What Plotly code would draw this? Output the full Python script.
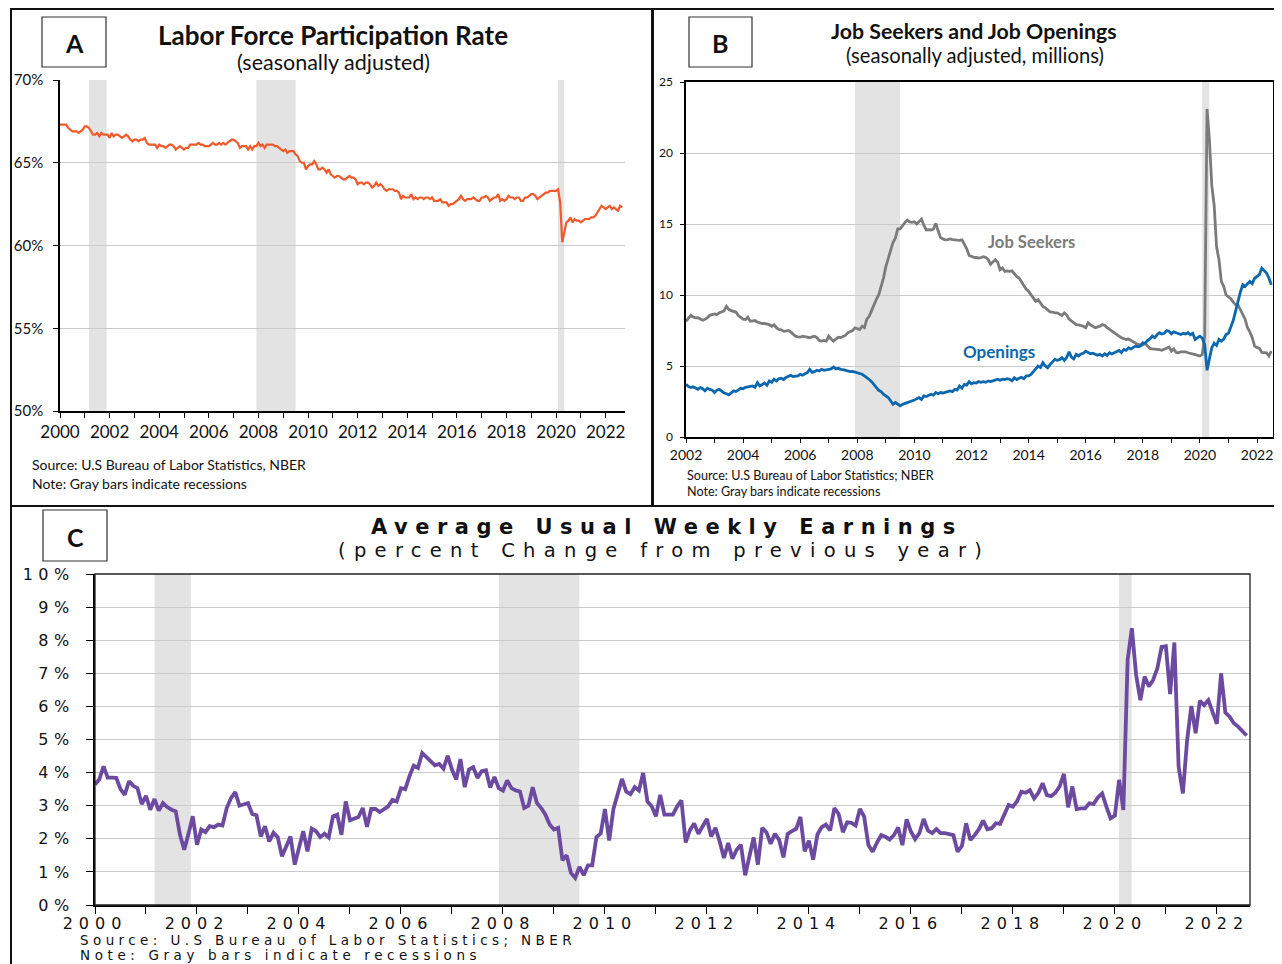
import numpy as np
import plotly.graph_objects as go

# The page body adds an 8px margin, so the figure is sized to the visible area
OFF = 8
FW, FH = 1282 - OFF, 964 - OFF

# ---------------- DATA ----------------
lfpr_start = 2000  # monthly, Jan 2000 - Sep 2022
lfpr = [
    67.3, 67.3, 67.3, 67.3, 67.1, 67.0, 66.9, 66.9, 66.9, 66.8, 66.9, 67.0,
    67.2, 67.2, 67.1, 66.9, 66.7, 66.7, 66.8, 66.6, 66.8, 66.7, 66.7, 66.7,
    66.5, 66.8, 66.6, 66.7, 66.7, 66.6, 66.5, 66.6, 66.7, 66.6, 66.4, 66.3,
    66.4, 66.4, 66.3, 66.4, 66.4, 66.5, 66.2, 66.1, 66.1, 66.1, 66.1, 65.9,
    66.1, 66.0, 66.0, 65.9, 66.0, 66.1, 66.1, 66.0, 65.8, 65.9, 66.0, 65.9,
    65.8, 65.9, 65.9, 66.1, 66.1, 66.1, 66.1, 66.2, 66.1, 66.1, 66.0, 66.0,
    66.0, 66.1, 66.2, 66.1, 66.1, 66.2, 66.1, 66.2, 66.1, 66.2, 66.3, 66.4,
    66.4, 66.3, 66.2, 65.9, 66.0, 66.0, 66.0, 65.8, 66.0, 65.8, 66.0, 66.0,
    66.2, 66.0, 66.1, 65.9, 66.1, 66.1, 66.1, 66.1, 66.0, 66.0, 65.9, 65.8,
    65.7, 65.8, 65.6, 65.7, 65.7, 65.7, 65.5, 65.4, 65.1, 65.0, 65.0, 64.6,
    64.8, 64.9, 64.9, 65.1, 64.9, 64.6, 64.6, 64.7, 64.6, 64.4, 64.6, 64.3,
    64.2, 64.1, 64.2, 64.2, 64.1, 64.0, 64.0, 64.1, 64.2, 64.1, 64.1, 64.0,
    63.7, 63.8, 63.8, 63.7, 63.8, 63.8, 63.7, 63.5, 63.6, 63.8, 63.6, 63.7,
    63.6, 63.4, 63.3, 63.4, 63.4, 63.4, 63.3, 63.3, 63.2, 62.8, 63.0, 62.9,
    62.9, 62.9, 63.1, 62.8, 62.9, 62.8, 62.9, 62.9, 62.8, 62.9, 62.9, 62.8,
    62.9, 62.7, 62.7, 62.7, 62.8, 62.6, 62.6, 62.6, 62.4, 62.5, 62.5, 62.6,
    62.7, 62.8, 63.0, 62.8, 62.7, 62.8, 62.8, 62.8, 62.9, 62.8, 62.7, 62.7,
    62.9, 62.9, 63.0, 62.9, 62.7, 62.8, 62.9, 62.9, 63.1, 62.7, 62.8, 62.7,
    62.8, 63.0, 62.9, 62.9, 62.8, 62.9, 62.9, 62.7, 62.7, 62.9, 62.9, 63.0,
    63.1, 63.1, 63.0, 62.8, 62.9, 63.0, 63.1, 63.2, 63.2, 63.3, 63.3, 63.3,
    63.3, 63.4, 62.6, 60.2, 60.8, 61.4, 61.5, 61.7, 61.4, 61.6, 61.5, 61.5,
    61.4, 61.5, 61.6, 61.6, 61.6, 61.7, 61.7, 61.8, 62.0, 62.2, 62.4, 62.3,
    62.2, 62.3, 62.4, 62.2, 62.3, 62.2, 62.1, 62.4, 62.3,
]

jobs_start = 2002  # monthly, Jan 2002 - Jul 2022 (millions)
job_seekers = [
    8.15, 8.35, 8.57, 8.45, 8.39, 8.40, 8.30, 8.22, 8.30, 8.40, 8.57, 8.60,
    8.67, 8.62, 8.75, 8.81, 8.90, 9.20, 8.97, 8.90, 8.86, 8.80, 8.55, 8.39,
    8.30, 8.27, 8.43, 8.15, 8.20, 8.20, 8.10, 8.04, 7.98, 8.00, 7.95, 7.92,
    7.80, 7.90, 7.70, 7.57, 7.55, 7.45, 7.45, 7.50, 7.40, 7.25, 7.10, 7.05,
    7.03, 7.10, 7.05, 7.00, 6.99, 7.05, 7.10, 7.00, 6.80, 6.75, 6.80, 6.75,
    7.10, 6.90, 6.75, 6.90, 7.03, 7.00, 7.10, 7.15, 7.34, 7.40, 7.50, 7.69,
    7.60, 7.57, 7.80, 7.70, 8.30, 8.50, 8.90, 9.37, 9.70, 10.02, 10.60, 11.19,
    12.00, 12.60, 13.06, 13.70, 14.00, 14.65, 14.65, 14.90, 15.10, 15.28, 15.15, 15.12,
    15.16, 15.00, 15.20, 15.35, 14.90, 14.58, 14.60, 14.58, 14.65, 15.05, 14.50, 14.04,
    13.95, 13.88, 13.90, 13.95, 13.90, 13.88, 13.90, 13.85, 13.88, 13.60, 13.25, 12.78,
    12.70, 12.65, 12.64, 12.60, 12.64, 12.70, 12.64, 12.50, 12.17, 12.30, 12.48, 12.30,
    11.78, 11.90, 11.66, 11.70, 11.66, 11.70, 11.50, 11.31, 11.20, 10.96, 10.70, 10.40,
    10.26, 10.02, 9.80, 9.56, 9.67, 9.45, 9.20, 9.10, 8.95, 8.81, 8.80, 8.74,
    8.74, 8.62, 8.55, 8.74, 8.60, 8.30, 8.15, 8.05, 7.92, 7.90, 7.87, 7.80,
    7.69, 8.04, 7.90, 7.80, 7.69, 7.75, 7.80, 7.92, 7.85, 7.70, 7.57, 7.45,
    7.34, 7.20, 7.10, 6.99, 6.95, 6.87, 6.90, 6.80, 6.64, 6.60, 6.52, 6.50,
    6.47, 6.60, 6.40, 6.24, 6.20, 6.20, 6.17, 6.15, 6.10, 6.15, 6.25, 6.33,
    6.05, 6.20, 5.95, 5.93, 6.00, 6.00, 6.00, 5.93, 5.90, 5.86, 5.80, 5.75,
    5.70, 5.82, 7.10, 23.10, 20.90, 17.70, 16.30, 13.40, 12.50, 10.96, 10.60, 10.00,
    9.90, 9.74, 9.50, 9.32, 9.30, 9.00, 8.62, 8.30, 7.69, 7.40, 6.99, 6.40,
    6.30, 6.24, 5.95, 5.93, 5.93, 5.70, 6.05,
]
openings = [
    3.71, 3.55, 3.48, 3.53, 3.45, 3.36, 3.48, 3.40, 3.25, 3.43, 3.35, 3.30,
    3.13, 3.30, 3.36, 3.20, 3.10, 3.05, 2.97, 3.10, 3.25, 3.20, 3.35, 3.43,
    3.40, 3.50, 3.53, 3.55, 3.60, 3.50, 3.83, 3.60, 3.71, 3.80, 3.65, 3.95,
    3.85, 4.07, 3.95, 4.10, 4.14, 4.05, 4.20, 4.25, 4.35, 4.25, 4.30, 4.30,
    4.42, 4.35, 4.45, 4.53, 4.77, 4.55, 4.60, 4.70, 4.65, 4.77, 4.70, 4.75,
    4.77, 4.80, 4.93, 4.80, 4.85, 4.77, 4.75, 4.70, 4.65, 4.60, 4.62, 4.58,
    4.55, 4.50, 4.42, 4.30, 4.14, 4.05, 3.90, 3.71, 3.50, 3.29, 3.20, 3.01,
    2.90, 2.78, 2.55, 2.31, 2.43, 2.30, 2.20, 2.30, 2.35, 2.43, 2.45, 2.55,
    2.60, 2.70, 2.78, 2.65, 2.90, 2.85, 2.95, 3.01, 2.95, 3.13, 3.05, 3.13,
    3.10, 3.13, 3.20, 3.25, 3.20, 3.36, 3.30, 3.60, 3.45, 3.71, 3.65, 3.90,
    3.75, 3.83, 3.80, 3.90, 3.85, 3.90, 3.85, 3.95, 3.90, 3.95, 4.00, 4.07,
    4.00, 4.07, 4.05, 4.10, 4.07, 3.95, 4.18, 4.05, 4.14, 4.20, 4.10, 4.30,
    4.30, 4.40, 4.60, 4.80, 5.00, 4.90, 5.23, 5.00, 4.88, 5.10, 5.30, 5.47,
    5.40, 5.45, 5.58, 5.40, 5.60, 6.00, 5.63, 5.50, 5.82, 5.70, 5.85, 5.90,
    6.05, 5.95, 5.86, 5.90, 5.82, 5.75, 5.82, 5.70, 5.86, 5.75, 5.93, 5.85,
    5.93, 6.00, 6.10, 5.95, 6.17, 6.10, 6.29, 6.20, 6.30, 6.40, 6.35, 6.40,
    6.64, 6.60, 6.80, 6.90, 7.10, 7.00, 7.20, 7.34, 7.25, 7.30, 7.50, 7.45,
    7.27, 7.40, 7.34, 7.30, 7.22, 7.30, 7.25, 7.34, 7.20, 7.30, 6.87, 7.00,
    7.10, 6.95, 6.52, 4.70, 5.58, 6.29, 6.60, 6.45, 6.87, 6.75, 6.90, 7.22,
    7.30, 7.69, 8.20, 8.86, 9.56, 10.20, 10.72, 10.61, 10.80, 10.96, 10.80, 11.19,
    11.30, 11.43, 11.90, 11.70, 11.54, 11.20, 10.72,
]

earn_start = 2000  # monthly, Jan 2000 - Aug 2022, % change from previous year
earnings = [
    3.64, 3.79, 4.19, 3.85, 3.85, 3.84, 3.50, 3.33, 3.74, 3.60, 3.53, 3.05,
    3.30, 2.88, 3.20, 2.85, 3.08, 2.96, 2.88, 2.83, 2.12, 1.67, 2.15, 2.68,
    1.82, 2.28, 2.20, 2.38, 2.35, 2.43, 2.40, 2.93, 3.23, 3.41, 3.00, 3.05,
    3.08, 2.75, 2.71, 2.07, 2.38, 1.92, 2.18, 2.05, 1.47, 1.77, 2.07, 1.22,
    1.77, 2.23, 1.62, 2.31, 2.23, 2.05, 2.15, 2.04, 2.68, 2.73, 2.12, 3.13,
    2.56, 2.60, 2.66, 2.93, 2.36, 2.90, 2.90, 2.81, 2.90, 2.98, 3.18, 3.13,
    3.53, 3.50, 3.89, 4.21, 4.14, 4.59, 4.47, 4.34, 4.22, 4.26, 4.12, 4.51,
    4.09, 3.79, 4.41, 3.56, 4.09, 4.16, 3.84, 4.04, 4.07, 3.55, 3.87, 3.53,
    3.46, 3.76, 3.53, 3.46, 3.43, 2.93, 3.00, 3.56, 3.08, 2.93, 2.73, 2.43,
    2.28, 2.33, 1.35, 1.50, 0.97, 0.82, 1.15, 0.90, 1.20, 1.20, 2.05, 2.16,
    2.90, 1.95, 2.90, 3.35, 3.81, 3.43, 3.35, 3.56, 3.46, 3.99, 3.13, 2.98,
    2.68, 3.33, 2.73, 2.73, 2.73, 2.98, 3.16, 1.89, 2.26, 2.46, 2.15, 2.38,
    2.60, 2.07, 2.33, 1.92, 1.42, 1.87, 1.40, 1.67, 1.82, 0.90, 1.47, 2.04,
    1.22, 2.33, 2.20, 1.85, 2.15, 1.97, 1.44, 2.15, 2.23, 2.30, 2.66, 1.62,
    1.94, 1.37, 2.13, 2.35, 2.43, 2.25, 2.93, 2.75, 2.20, 2.50, 2.48, 2.40,
    2.90, 2.67, 1.81, 1.61, 1.88, 2.11, 2.06, 1.98, 2.11, 2.34, 1.81, 2.59,
    2.22, 1.99, 2.17, 2.60, 2.25, 2.17, 2.29, 2.17, 2.17, 2.13, 2.11, 1.61,
    1.78, 2.47, 1.96, 2.11, 2.29, 2.55, 2.29, 2.32, 2.47, 2.45, 2.77, 3.02,
    2.97, 3.14, 3.42, 3.39, 3.47, 3.22, 3.39, 3.68, 3.32, 3.29, 3.39, 3.58,
    3.96, 2.95, 3.58, 2.90, 2.92, 2.92, 3.07, 3.05, 3.25, 3.37, 2.97, 2.62,
    2.70, 3.78, 2.87, 7.40, 8.36, 6.95, 6.19, 6.90, 6.60, 6.80, 7.15, 7.80,
    7.82, 6.37, 7.93, 4.18, 3.37, 4.98, 6.01, 5.19, 6.17, 6.04, 6.19, 5.79,
    5.47, 7.00, 5.81, 5.69, 5.49, 5.39, 5.27, 5.12,
]

recessions = [(2001.17, 2001.88), (2007.92, 2009.5), (2020.08, 2020.33)]

years_a = list(range(2000, 2023, 2))
years_b = list(range(2002, 2023, 2))
years_c = list(range(2000, 2023, 2))
pct_a = [50, 55, 60, 65, 70]
vals_b = [0, 5, 10, 15, 20, 25]
pct_c = list(range(0, 11))

# ---------------- HELPERS (screen px -> paper) ----------------
def px(x):
    return (x - OFF) / FW

def py(y):
    return 1 - (y - OFF) / FH

def monthly_x(start, n):
    return start + np.arange(n) / 12.0

def spaced(t, sp):
    return f'<span style="letter-spacing:{sp}px">{t}</span>'

LATO = "Lato, 'Open Sans', sans-serif"
WIDE = "'DejaVu Sans', Verdana, sans-serif"
GRID = "#C9C9C9"
REC = "#E3E3E3"

fig = go.Figure()

fig.add_trace(go.Scatter(x=monthly_x(lfpr_start, len(lfpr)), y=lfpr, mode="lines",
                         line=dict(color="#F0592A", width=2.2), xaxis="x", yaxis="y",
                         showlegend=False))
fig.add_trace(go.Scatter(x=monthly_x(jobs_start, len(job_seekers)), y=job_seekers, mode="lines",
                         line=dict(color="#7B7B7B", width=2.8), xaxis="x2", yaxis="y2",
                         showlegend=False))
fig.add_trace(go.Scatter(x=monthly_x(jobs_start, len(openings)), y=openings, mode="lines",
                         line=dict(color="#0B67AE", width=2.8), xaxis="x2", yaxis="y2",
                         showlegend=False))
fig.add_trace(go.Scatter(x=monthly_x(earn_start, len(earnings)), y=earnings, mode="lines",
                         line=dict(color="#6B4A9F", width=3.8), xaxis="x3", yaxis="y3",
                         showlegend=False))

shapes = []
# recession bars
for (xr, yr, lo) in [("x", "y", 2000), ("x2", "y2", 2002), ("x3", "y3", 2000)]:
    for s, e in recessions:
        if e <= lo:
            continue
        shapes.append(dict(type="rect", xref=xr, yref=yr + " domain", x0=max(s, lo), x1=e,
                           y0=0, y1=1, fillcolor=REC, line=dict(width=0), layer="below"))

# frame for panel C
shapes.append(dict(type="rect", xref="x3 domain", yref="y3 domain", x0=0, x1=1, y0=0, y1=1,
                   line=dict(color="#222", width=1.3), layer="above"))

# panel borders
for (x0, y0, x1, y1) in [(11, 9, 652, 506), (653, 9, 1281, 506), (11, 506, 1281, 975)]:
    shapes.append(dict(type="rect", xref="paper", yref="paper", x0=px(x0), x1=px(x1),
                       y0=py(y1), y1=py(y0), line=dict(color="#111", width=2), layer="above"))

# letter boxes
for (x0, y0, x1, y1) in [(42, 17, 106, 67), (689, 17, 752, 67), (43, 510, 107, 561)]:
    shapes.append(dict(type="rect", xref="paper", yref="paper", x0=px(x0), x1=px(x1),
                       y0=py(y1), y1=py(y0), line=dict(color="#333", width=1.2),
                       fillcolor="white", layer="above"))

ann = []
def text(x, y, t, size, family=LATO, color="#111", xanchor="center", yanchor="middle"):
    ann.append(dict(x=px(x), y=py(y), xref="paper", yref="paper", text=t, showarrow=False,
                    xanchor=xanchor, yanchor=yanchor, font=dict(family=family, size=size, color=color)))

# letters
text(74, 43, "<b>A</b>", 25)
text(720, 43, "<b>B</b>", 25)
text(75, 537, "<b>C</b>", 25)

# Panel A titles
text(333, 35, "<b>Labor Force Participation Rate</b>", 26)
text(333, 62, "(seasonally adjusted)", 21.5)
text(30, 464, "Source: U.S Bureau of Labor Statistics, NBER", 14, xanchor="left")
text(30, 483, "Note: Gray bars indicate recessions", 14, xanchor="left")

# Panel B titles
text(974, 31, "<b>Job Seekers and Job Openings</b>", 21.3)
text(975, 55, "(seasonally adjusted, millions)", 20.2)
text(685, 475, "Source: U.S Bureau of Labor Statistics; NBER", 12.6, xanchor="left")
text(685, 491, "Note: Gray bars indicate recessions", 12.6, xanchor="left")
ann.append(dict(x=2014.1, y=13.7, xref="x2", yref="y2", text="<b>Job Seekers</b>", showarrow=False,
                font=dict(family=LATO, size=16.6, color="#7B7B7B")))
ann.append(dict(x=2012.95, y=6.0, xref="x2", yref="y2", text="<b>Openings</b>", showarrow=False,
                font=dict(family=LATO, size=17, color="#0B67AE")))

# Panel C titles
text(667, 527, "<b>" + spaced("Average Usual Weekly Earnings", 7.5) + "</b>", 21, family=WIDE)
text(664, 550, spaced("(percent Change from previous year)", 8.3), 19.5, family=WIDE)
text(78, 940, spaced("Source: U.S Bureau of Labor Statistics; NBER", 4.4), 13.5, family=WIDE, xanchor="left")
text(78, 955, spaced("Note: Gray bars indicate recessions", 4.6), 13.5, family=WIDE, xanchor="left")

common_x = dict(showgrid=False, zeroline=False, showline=True, linecolor="black",
                ticks="outside", tickcolor="black", automargin=False)

fig.update_layout(
    width=FW, height=FH, autosize=False,
    margin=dict(l=0, r=0, t=0, b=0, pad=0, autoexpand=False),
    paper_bgcolor="white", plot_bgcolor="white", showlegend=False,
    shapes=shapes, annotations=ann,
    xaxis=dict(domain=[px(60), px(625)], range=[2000, 2022.78], anchor="y",
               tickvals=years_a, ticktext=[str(y) for y in years_a], ticklen=5, linewidth=1.5,
               minor=dict(dtick=1, tick0=2000, ticks="outside", ticklen=5, tickcolor="black"),
               tickfont=dict(family=LATO, size=17, color="#111"), **common_x),
    yaxis=dict(domain=[py(411), py(80)], range=[50, 70], anchor="x", automargin=False,
               tickvals=pct_a, ticktext=[f"{v}%" for v in pct_a],
               showgrid=True, gridcolor=GRID, gridwidth=1.2, zeroline=False,
               showline=True, linecolor="black", linewidth=1.5, ticks="outside", ticklen=5,
               tickcolor="black", ticklabelstandoff=7,
               tickfont=dict(family=LATO, size=15, color="#111")),
    xaxis2=dict(domain=[px(686), px(1273)], range=[2002, 2022.56], anchor="y2",
                tickvals=years_b, ticktext=[str(y) for y in years_b], ticklen=4, linewidth=1.5,
                mirror=True,
                minor=dict(dtick=1, tick0=2002, ticks="outside", ticklen=4, tickcolor="black"),
                tickfont=dict(family=LATO, size=14, color="#111"), **common_x),
    yaxis2=dict(domain=[py(437), py(82)], range=[0, 25], anchor="x2", automargin=False,
                tickvals=vals_b, ticktext=[str(v) for v in vals_b],
                showgrid=True, gridcolor=GRID, gridwidth=1.2, zeroline=False, mirror=True,
                showline=True, linecolor="black", linewidth=1.5, ticks="outside", ticklen=4,
                tickcolor="black", ticklabelstandoff=5,
                tickfont=dict(family=LATO, size=12, color="#111")),
    xaxis3=dict(domain=[px(95), px(1250)], range=[2000, 2022.65], anchor="y3",
                tickvals=years_c, ticktext=[spaced(str(y), 6) for y in years_c], ticklen=7,
                linewidth=2.2, ticklabelstandoff=-4,
                minor=dict(dtick=1, tick0=2000, ticks="outside", ticklen=7, tickcolor="black"),
                tickfont=dict(family=WIDE, size=16, color="#111"), **common_x),
    yaxis3=dict(domain=[py(905), py(574)], range=[0, 10], anchor="x3", automargin=False,
                tickvals=pct_c, ticktext=[spaced(f"{v}%", 5.5) for v in pct_c],
                showgrid=True, gridcolor=GRID, gridwidth=1.2, zeroline=False,
                showline=True, linecolor="black", linewidth=2.2, ticks="outside", ticklen=7,
                tickcolor="black", ticklabelstandoff=8,
                tickfont=dict(family=WIDE, size=16, color="#111")),
)

fig.write_html("out.html")
